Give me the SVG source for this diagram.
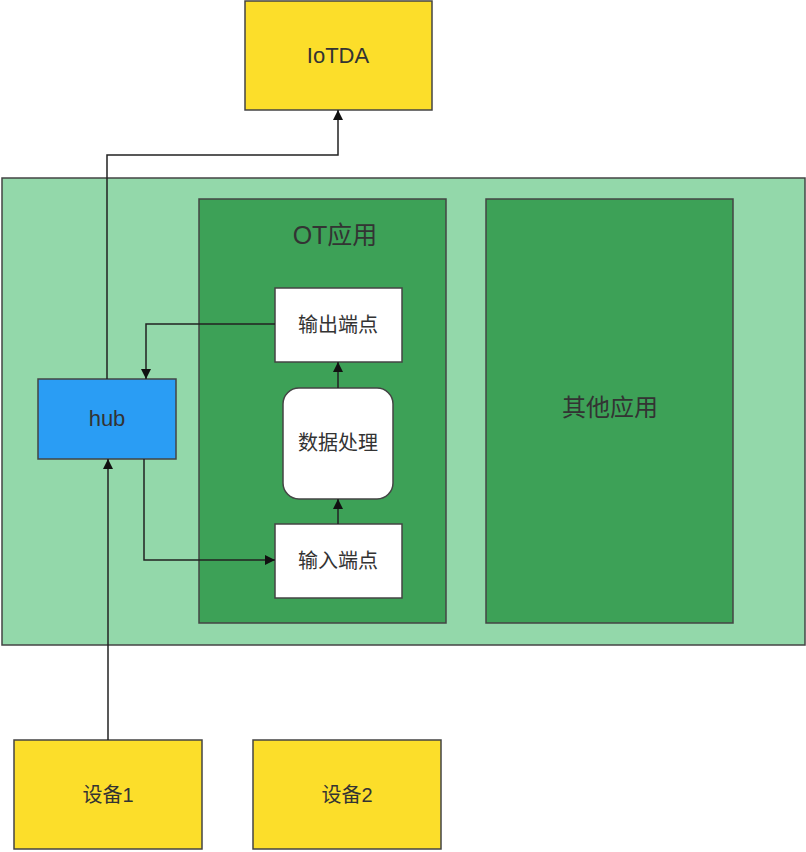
<svg xmlns="http://www.w3.org/2000/svg" width="806" height="852" viewBox="0 0 806 852">
<defs>
<style>
.box{stroke:#444;stroke-width:1.5}
.y{fill:#FCDE2A}
.w{fill:#fff}
.t{font-family:"Liberation Sans","Noto Sans CJK SC",sans-serif;fill:#333;text-anchor:middle;dominant-baseline:central}
.c{fill:none;stroke:#222;stroke-width:1.5}
</style>
<marker id="ah" viewBox="0 0 10 10" refX="10" refY="5" markerWidth="10" markerHeight="10" markerUnits="userSpaceOnUse" orient="auto">
<path d="M0,0 L10,5 L0,10 z" fill="#111"/>
</marker>
</defs>
<rect width="806" height="852" fill="#fff"/>
<g id="container">
<rect class="box" x="2" y="178" width="803" height="467" fill="#93D8AA"/>
</g>
<g id="ot-app">
<rect class="box" x="199" y="199" width="247" height="424" fill="#3DA157"/>
<text class="t" x="335" y="235" font-size="25">OT应用</text>
</g>
<g id="other-app">
<rect class="box" x="486" y="199" width="247" height="424" fill="#3DA157"/>
<text class="t" x="610" y="407" font-size="24">其他应用</text>
</g>
<g id="iotda">
<rect class="box y" x="245" y="1" width="187" height="109"/>
<text class="t" x="338" y="55" font-size="22">IoTDA</text>
</g>
<g id="hub">
<rect class="box" x="38" y="379" width="138" height="80" fill="#2A9DF4"/>
<text class="t" x="107" y="418" font-size="22">hub</text>
</g>
<g id="output">
<rect class="box w" x="275" y="288" width="127" height="74"/>
<text class="t" x="338" y="325" font-size="20">输出端点</text>
</g>
<g id="process">
<rect class="box w" x="283" y="388" width="110" height="111" rx="16"/>
<text class="t" x="338" y="443" font-size="20">数据处理</text>
</g>
<g id="input">
<rect class="box w" x="275" y="524" width="127" height="74"/>
<text class="t" x="338" y="561" font-size="20">输入端点</text>
</g>
<g id="device1">
<rect class="box y" x="14" y="740" width="188" height="109"/>
<text class="t" x="108" y="795" font-size="20">设备1</text>
</g>
<g id="device2">
<rect class="box y" x="253" y="740" width="188" height="109"/>
<text class="t" x="347" y="795" font-size="20">设备2</text>
</g>
<g id="connectors">
<path class="c" d="M107,379 V155 H338 V110" marker-end="url(#ah)"/>
<path class="c" d="M108,740 V459" marker-end="url(#ah)"/>
<path class="c" d="M275,324 H146 V379" marker-end="url(#ah)"/>
<path class="c" d="M144,459 V560 H275" marker-end="url(#ah)"/>
<path class="c" d="M338,524 V499" marker-end="url(#ah)"/>
<path class="c" d="M338,388 V362" marker-end="url(#ah)"/>
</g>
</svg>
